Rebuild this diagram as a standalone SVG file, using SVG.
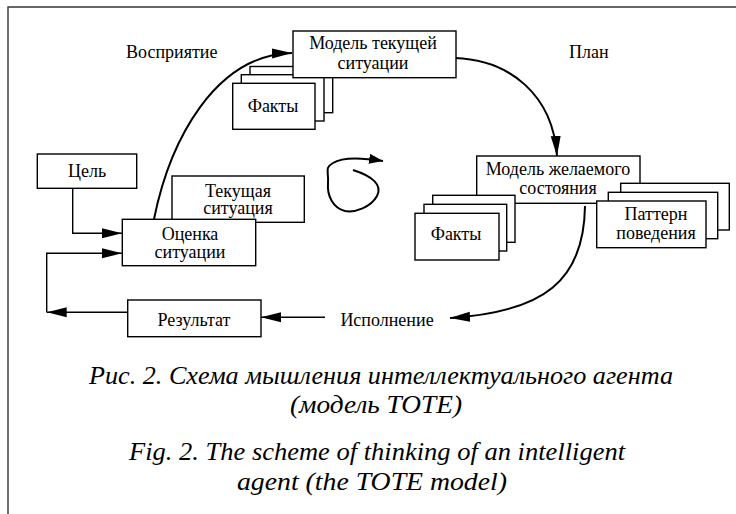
<svg xmlns="http://www.w3.org/2000/svg" width="736" height="514" viewBox="0 0 736 514">
<style>
  .box{fill:#fff;stroke:#000;stroke-width:1.4}
  .t{font-family:'Liberation Serif','Times New Roman',serif;font-size:18px;fill:#000;text-anchor:middle}
  .lbl{font-family:'Liberation Serif','Times New Roman',serif;font-size:18px;fill:#000}
  .cap{font-family:'Liberation Serif','Times New Roman',serif;font-size:25px;font-style:italic;fill:#000}
  .ln{fill:none;stroke:#000;stroke-width:1.4}
  .cv{fill:none;stroke:#000;stroke-width:2}
</style>
<defs>
  <marker id="arr" markerUnits="userSpaceOnUse" markerWidth="20" markerHeight="12" viewBox="0 0 20 12" refX="20" refY="6" orient="auto">
    <path d="M0,1 L20,6 L0,11 Z" fill="#000"/>
  </marker>
  <marker id="arrS" markerUnits="userSpaceOnUse" markerWidth="14" markerHeight="12" viewBox="0 0 14 12" refX="14" refY="6" orient="auto">
    <path d="M0,1 L14,6 L0,11 Z" fill="#000"/>
  </marker>
</defs>
<path d="M8,514 L8,7 L736,7" fill="none" stroke="#333" stroke-width="1.4"/>

<g id="connectors">
  <path class="cv" d="M154,219 C170,140 215,55 292,53" marker-end="url(#arr)"/>
  <path class="cv" d="M455,58 C510,60 553,95 557,156" marker-end="url(#arr)"/>
  <path class="cv" d="M585,206 C584,280 545,312 450,318" marker-end="url(#arr)"/>
  <path class="ln" d="M72.7,188 L72.7,233.3 L122,233.3" marker-end="url(#arr)"/>
  <path class="ln" d="M127.7,312.3 L46.7,312.3" marker-end="url(#arr)"/>
  <path class="ln" d="M46.7,312.3 L46.7,253.3 L122,253.3" marker-end="url(#arr)"/>
  <path class="ln" d="M325,317.3 L261,317.3" marker-end="url(#arr)"/>
  <path class="cv" d="M353,170 C372,176 383,185 377,196 C371,207 355,213 345,211 C333,208 327,196 328,183 C329,172 324,168 333,163 C342,157 358,157 383,161" marker-end="url(#arrS)"/>
</g>

<g id="perception-label"><text class="lbl" x="126" y="58">Восприятие</text></g>
<g id="plan-label"><text class="lbl" x="569" y="58">План</text></g>
<g id="execution-label"><text class="t" x="387" y="326">Исполнение</text></g>

<g id="facts-top">
  <rect class="box" x="250" y="66.5" width="82.7" height="46.2"/>
  <rect class="box" x="241.3" y="74.7" width="82.7" height="46.3"/>
  <rect class="box" x="232.7" y="83.3" width="82.3" height="46"/>
  <text class="t" x="273" y="112">Факты</text>
</g>
<g id="current-model">
  <rect class="box" x="293" y="31" width="163" height="46.7"/>
  <text class="t" x="373" y="48.5">Модель текущей</text>
  <text class="t" x="373" y="68.5">ситуации</text>
</g>
<g id="goal">
  <rect class="box" x="37.3" y="154" width="99.4" height="34.3"/>
  <text class="t" x="87" y="177">Цель</text>
</g>
<g id="current-situation">
  <rect class="box" x="172" y="176" width="132.3" height="46.3"/>
  <text class="t" x="238" y="196.5">Текущая</text>
  <text class="t" x="238" y="214">ситуация</text>
</g>
<g id="assessment">
  <rect class="box" x="122.3" y="219.3" width="133.4" height="46.4"/>
  <text class="t" x="190" y="239.5">Оценка</text>
  <text class="t" x="190" y="257.5">ситуации</text>
</g>
<g id="result">
  <rect class="box" x="127.7" y="300" width="133.3" height="36.7"/>
  <text class="t" x="194" y="326">Результат</text>
</g>
<g id="desired-model">
  <rect class="box" x="476.7" y="156" width="163.3" height="47.3"/>
  <text class="t" x="558" y="175">Модель желаемого</text>
  <text class="t" x="558" y="193.5">состояния</text>
</g>
<g id="facts-bottom">
  <rect class="box" x="432.7" y="195.3" width="82.3" height="47"/>
  <rect class="box" x="424" y="204.3" width="82.7" height="46.7"/>
  <rect class="box" x="415" y="213.3" width="84" height="46.7"/>
  <text class="t" x="456" y="240">Факты</text>
</g>
<g id="behavior-pattern">
  <rect class="box" x="620.7" y="183.3" width="108.6" height="46.7"/>
  <rect class="box" x="608.3" y="192.3" width="109.4" height="46.4"/>
  <rect class="box" x="596.7" y="201" width="109.3" height="46.7"/>
  <text class="t" x="656" y="220">Паттерн</text>
  <text class="t" x="656" y="238.5">поведения</text>
</g>

<g id="caption">
  <text class="cap" x="89" y="384" textLength="584" lengthAdjust="spacingAndGlyphs">Рис. 2. Схема мышления интеллектуального агента</text>
  <text class="cap" x="290" y="413" textLength="172" lengthAdjust="spacingAndGlyphs">(модель TOTE)</text>
  <text class="cap" x="129" y="460" textLength="496" lengthAdjust="spacingAndGlyphs">Fig. 2. The scheme of thinking of an intelligent</text>
  <text class="cap" x="237" y="490" textLength="270" lengthAdjust="spacingAndGlyphs">agent (the TOTE model)</text>
</g>
</svg>
